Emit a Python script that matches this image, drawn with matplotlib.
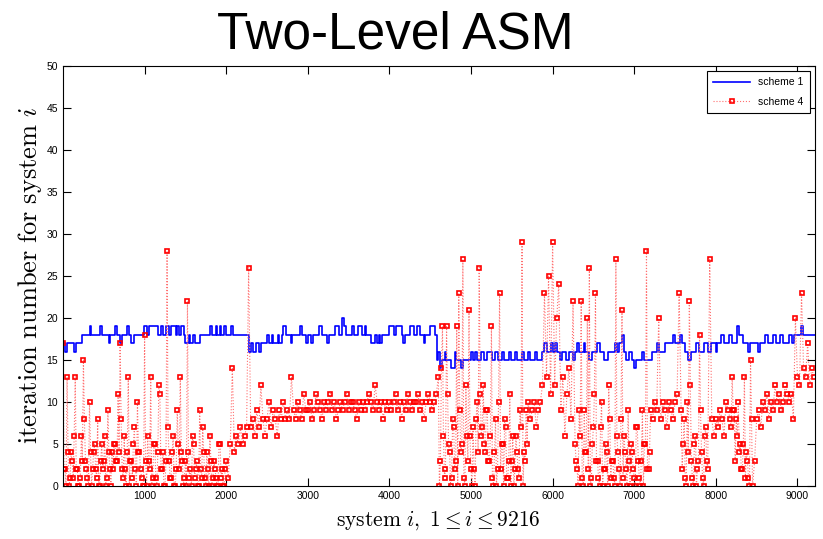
import numpy as np
import matplotlib
matplotlib.use("Agg")
import matplotlib.pyplot as plt

plt.rcParams["mathtext.fontset"] = "cm"
plt.rcParams["font.family"] = ["Liberation Sans", "DejaVu Sans"]

# scheme 1: step line, (start of step, level)
s1_x = [1, 30, 50, 140, 160, 230, 330, 350, 460, 480, 560, 580, 640, 660, 700, 730,
        790, 810, 840, 870, 990, 1030, 1060, 1170, 1200, 1230, 1260, 1300, 1320, 1380,
        1400, 1420, 1450, 1480, 1500, 1540, 1560, 1600, 1620, 1680, 1800, 1830, 1870,
        1890, 1920, 1940, 1980, 2000, 2060, 2090, 2280, 2300, 2330, 2360, 2400, 2430,
        2500, 2520, 2560, 2580, 2630, 2650, 2680, 2700, 2730, 2790, 2810, 2900, 2930,
        2980, 3000, 3040, 3060, 3140, 3180, 3230, 3260, 3330, 3380, 3420, 3440, 3470,
        3540, 3570, 3620, 3660, 3700, 3720, 3780, 3830, 3850, 3870, 3890, 3910, 4000,
        4060, 4080, 4150, 4170, 4190, 4250, 4300, 4340, 4380, 4420, 4440, 4500, 4560,
        4580, 4600, 4620, 4640, 4680, 4700, 4760, 4800, 4820, 4880, 4900, 5000, 5030,
        5050, 5080, 5120, 5160, 5200, 5260, 5300, 5330, 5380, 5410, 5470, 5490, 5540,
        5560, 5620, 5650, 5700, 5720, 5780, 5810, 5870, 5900, 5930, 5980, 6000, 6030,
        6060, 6090, 6120, 6160, 6200, 6250, 6270, 6300, 6320, 6380, 6400, 6450, 6480,
        6550, 6580, 6630, 6680, 6760, 6790, 6820, 6850, 6870, 6900, 6940, 6970, 7000,
        7020, 7100, 7120, 7220, 7280, 7300, 7380, 7480, 7500, 7560, 7590, 7620, 7660,
        7700, 7760, 7800, 7850, 7900, 7940, 8000, 8020, 8060, 8100, 8160, 8200, 8260,
        8290, 8330, 8390, 8420, 8520, 8540, 8600, 8640, 8700, 8740, 8790, 8820, 8900,
        8940, 8960, 9040, 9070, 9216]
s1_y = [17, 16, 17, 16, 17, 18, 19, 18, 19, 18, 17, 18, 19, 18, 17, 18,
        19, 18, 17, 18, 19, 18, 19, 18, 19, 18, 19, 18, 19, 18,
        19, 18, 19, 18, 17, 18, 17, 18, 17, 18, 19, 18, 19,
        18, 19, 18, 19, 18, 19, 18, 16, 17, 16, 17, 16, 17,
        18, 17, 18, 17, 18, 17, 18, 19, 18, 17, 18, 19, 18,
        17, 18, 17, 18, 19, 18, 17, 18, 19, 18, 20, 19, 18,
        19, 18, 19, 18, 19, 18, 17, 18, 17, 18, 17, 18, 19,
        18, 19, 18, 17, 18, 19, 18, 19, 18, 17, 18, 19, 18,
        15, 16, 14, 15, 16, 15, 14, 16, 15, 14, 15, 16, 15,
        16, 15, 16, 15, 16, 15, 16, 15, 16, 15, 16, 15, 16,
        15, 16, 15, 16, 15, 16, 15, 16, 17, 16, 17, 16, 17,
        16, 15, 16, 15, 16, 15, 16, 17, 16, 17, 16, 15, 16,
        17, 16, 15, 16, 17, 16, 17, 18, 16, 15, 16, 15, 14,
        15, 16, 15, 16, 17, 16, 17, 18, 17, 18, 17, 16, 15,
        16, 17, 16, 17, 16, 17, 16, 17, 18, 17, 18, 17, 19,
        18, 17, 16, 17, 16, 17, 18, 17, 18, 17, 18, 17, 18,
        17, 18, 19, 18, 18]

# scheme 4: one value every 25 systems (x = 1, 26, 51, ...), per block of 1000
s4_step = 25
s4_0k = [17, 2, 13, 0, 4, 1, 13, 2, 0, 6, 15, 3, 1, 10, 0, 4, 2, 8, 0, 5,
         3, 0, 9, 2, 4, 5, 3, 11, 17, 2, 6, 0, 13, 3, 1, 7, 0, 4, 2, 0]
s4_1k = [18, 0, 3, 13, 1, 5, 0, 12, 2, 4, 0, 28, 3, 1, 6, 0, 9, 2, 4, 0,
         3, 22, 1, 0, 5, 2, 0, 9, 1, 4, 0, 2, 6, 0, 3, 1, 0, 5, 2, 0]
s4_2k = [3, 1, 5, 14, 4, 6, 5, 7, 5, 6, 7, 26, 7, 8, 6, 9, 7, 12, 8, 6,
         8, 10, 7, 9, 8, 6, 9, 8, 10, 8, 9, 8, 13, 9, 8, 10, 9, 8, 11, 9]
s4_3k = [9, 10, 8, 9, 11, 10, 9, 8, 10, 9, 10, 11, 9, 10, 8, 9, 10, 9, 10, 11,
         9, 10, 10, 9, 8, 10, 9, 10, 9, 10, 11, 10, 9, 12, 10, 9, 10, 8, 10, 9]
s4_4k = [10, 9, 10, 11, 9, 10, 8, 10, 9, 11, 10, 9, 10, 10, 11, 9, 10, 8, 10, 11,
         10, 9, 10, 11, 13, 3, 19, 1, 19, 5, 0, 8, 2, 19, 23, 4, 27, 0, 6, 21]
s4_5k = [2, 7, 0, 10, 26, 6, 12, 4, 9, 3, 19, 0, 8, 2, 23, 5, 0, 7, 1, 11,
         3, 0, 6, 2, 9, 29, 4, 9, 10, 8, 9, 10, 7, 9, 10, 12, 23, 13, 25, 11]
s4_6k = [29, 12, 20, 24, 9, 13, 6, 11, 14, 8, 22, 5, 2, 9, 22, 0, 4, 20, 26, 1,
         7, 23, 3, 0, 10, 2, 5, 0, 8, 3, 1, 27, 4, 0, 21, 6, 2, 9, 0, 4]
s4_7k = [1, 7, 3, 0, 9, 5, 28, 2, 9, 8, 10, 9, 20, 8, 10, 9, 7, 10, 9, 8,
         10, 11, 23, 9, 5, 1, 10, 22, 3, 0, 6, 2, 18, 4, 0, 7, 2, 27, 8, 6]
s4_8k = [8, 7, 9, 8, 6, 10, 9, 8, 13, 9, 8, 10, 5, 2, 13, 4, 1, 15, 0, 3,
         8, 9, 7, 10, 9, 11, 8, 10, 9, 12, 10, 11, 9, 10, 12, 11, 10, 11, 8, 20]
s4_9k = [13, 12, 23, 14, 13, 17, 12, 14, 13]

# extra readings in the dense stretches, halfway between the samples above
d_start = [13, 4613, 6288, 7588, 8188]
d_0k = [2, 0, 4, 1, 3, 6, 2, 0, 1, 3, 8, 2, 0, 4, 2, 5, 1, 0, 3, 2,
        6, 1, 4, 0, 2, 5, 3, 4, 8, 1, 2, 4, 0, 3, 5, 2, 10, 4, 1, 0,
        3, 6, 2, 0, 5, 1, 4, 11, 2, 0, 3, 7, 1, 4, 0, 2, 5, 13, 3, 1,
        0, 4, 2, 6, 1, 3, 0, 2, 7, 1, 4, 0, 3, 1, 2, 0, 5, 1, 0, 2]
d_46 = [0, 14, 6, 2, 11, 4, 1, 7, 3, 0, 9, 5, 1, 12, 3, 6, 0, 2, 8, 4,
        11, 7, 5, 9, 3, 6, 1, 4, 0, 10, 2, 5, 8, 1, 3, 0, 6, 2, 4, 1,
        7, 0, 3, 5]
d_63 = [3, 0, 6, 1, 9, 4, 2, 0, 5, 11, 3, 1, 7, 0, 2, 4, 12, 1, 3, 0,
        6, 2, 8, 1, 4, 0, 3, 5, 2, 0, 7, 1, 3, 0, 5, 2, 4]
d_76 = [2, 8, 0, 4, 12, 1, 5, 0, 3, 9, 1, 6, 3]
d_82 = [7, 9, 3, 6, 4, 2, 5, 1, 3, 0, 8]

main_y = s4_0k + s4_1k + s4_2k + s4_3k + s4_4k + s4_5k + s4_6k + s4_7k + s4_8k + s4_9k
main_x = list(np.arange(len(main_y)) * s4_step + 1)
extra_x, extra_y = [], []
for x0, vals in zip(d_start, [d_0k, d_46, d_63, d_76, d_82]):
    extra_x += list(np.arange(len(vals)) * s4_step + x0)
    extra_y += vals
order = np.argsort(main_x + extra_x)
s4_x = np.array(main_x + extra_x)[order]
s4_y = np.array(main_y + extra_y)[order]

x_ticks = [1000, 2000, 3000, 4000, 5000, 6000, 7000, 8000, 9000]
y_ticks = [0, 5, 10, 15, 20, 25, 30, 35, 40, 45, 50]

fig = plt.figure(figsize=(8.23, 5.39), dpi=100)
ax = fig.add_axes([63 / 823, 53 / 539, 752 / 823, 420 / 539])

ax.step(s1_x, s1_y, where="post", color="blue", lw=1.2, label="scheme 1")
ax.plot(s4_x, s4_y, color="#ff7070", ls=":", lw=0.8, marker="s", ms=3.5,
        mfc="none", mec="red", mew=1.2, label="scheme 4")

ax.set_xlim(1, 9216)
ax.set_ylim(0, 50)
ax.set_xticks(x_ticks)
ax.set_yticks(y_ticks)
ax.tick_params(direction="in", length=6, width=0.8, labelsize=7.5,
               top=True, right=True)
for s in ax.spines.values():
    s.set_linewidth(0.8)

leg = ax.legend(loc="upper right", fontsize=7.5, handlelength=3.5,
                fancybox=False, edgecolor="black", framealpha=1,
                borderpad=0.6, labelspacing=0.9)
leg.get_frame().set_linewidth(0.8)

fig.text(395 / 823, 1 - 35 / 539, "Two-Level ASM", ha="center", va="center",
         fontsize=37)
fig.text(438 / 823, 1 - 520 / 539, r"$\mathrm{system}\ i,\ 1 \leq i \leq 9216$",
         ha="center", va="center", fontsize=15.5)
fig.text(30 / 823, 1 - 276 / 539, r"$\mathrm{iteration\ number\ for\ system}\ i$",
         ha="center", va="center", rotation=90, fontsize=19)

fig.savefig("out.png", dpi=100)
